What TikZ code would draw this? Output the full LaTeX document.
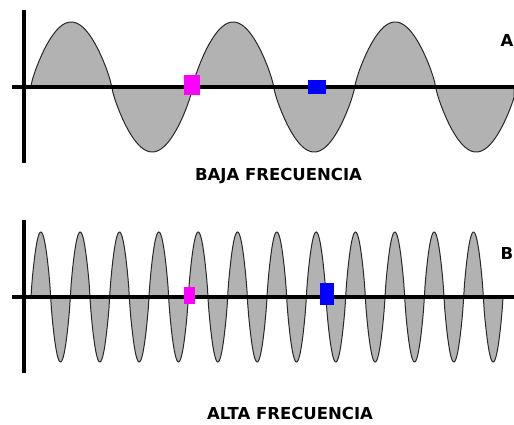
\documentclass[tikz,border=0pt]{standalone}
\usepackage{fontspec}
\newfontfamily\capfont{DejaVu Sans}
\usetikzlibrary{positioning}
\definecolor{wavegray}{RGB}{178,178,178}
\definecolor{waveline}{RGB}{40,40,40}
\definecolor{mkpink}{RGB}{255,0,255}
\definecolor{mkblue}{RGB}{0,0,255}
\tikzset{
  axis/.style   ={line width=3.5pt, black},
  wave/.style   ={fill=wavegray, draw=waveline, line width=1pt},
  pinkmk/.style ={fill=mkpink, inner sep=0pt},
  bluemk/.style ={fill=mkblue, inner sep=0pt},
  ttl/.style    ={font=\capfont\bfseries\fontsize{16.5}{18}\selectfont, inner sep=0pt},
  lbl/.style    ={font=\capfont\bfseries\fontsize{16.5}{18}\selectfont, inner sep=0pt},
  declare function={wv(\a)=sin(\a)*pow(abs(sin(\a))+0.0001,-0.2);},
}

\begin{document}
\begin{tikzpicture}[x=1pt,y=-1pt]
\useasboundingbox (0,0) rectangle (514,424);
\clip (0,0) rectangle (514,424);

% baja frecuencia
\path[wave] plot[domain=30.7:514, samples=300] (\x,{87-65*wv((\x-30.7)/162*360)})
  -- (514,87) -- cycle;
\draw[axis] (12,87) -- (514,87);
\draw[axis] (24,10) -- (24,163);
\node[pinkmk, minimum width=16, minimum height=20] (pinkA) at (192,85) {};
\node[bluemk, minimum width=18, minimum height=14] (blueA) at (317,87) {};
\node[lbl] (lblA) at (507,40) {A};
\node[ttl] (ttlA) at (278.5,176.5) {BAJA FRECUENCIA};

% alta frecuencia
\path[wave] plot[domain=31:503, samples=600] (\x,{297-65*wv((\x-31)/39.333*360)})
  -- cycle;
\draw[axis] (12,297) -- (514,297);
\draw[axis] (24,220) -- (24,373);
\node[pinkmk, minimum width=11, minimum height=17] (pinkB) at (189.5,295.5) {};
\node[bluemk, minimum width=14, minimum height=22] (blueB) at (327,294) {};
\node[lbl] (lblB) at (507,253) {B};
\node[ttl] (ttlB) at (290,413.5) {ALTA FRECUENCIA};

\end{tikzpicture}
\end{document}
